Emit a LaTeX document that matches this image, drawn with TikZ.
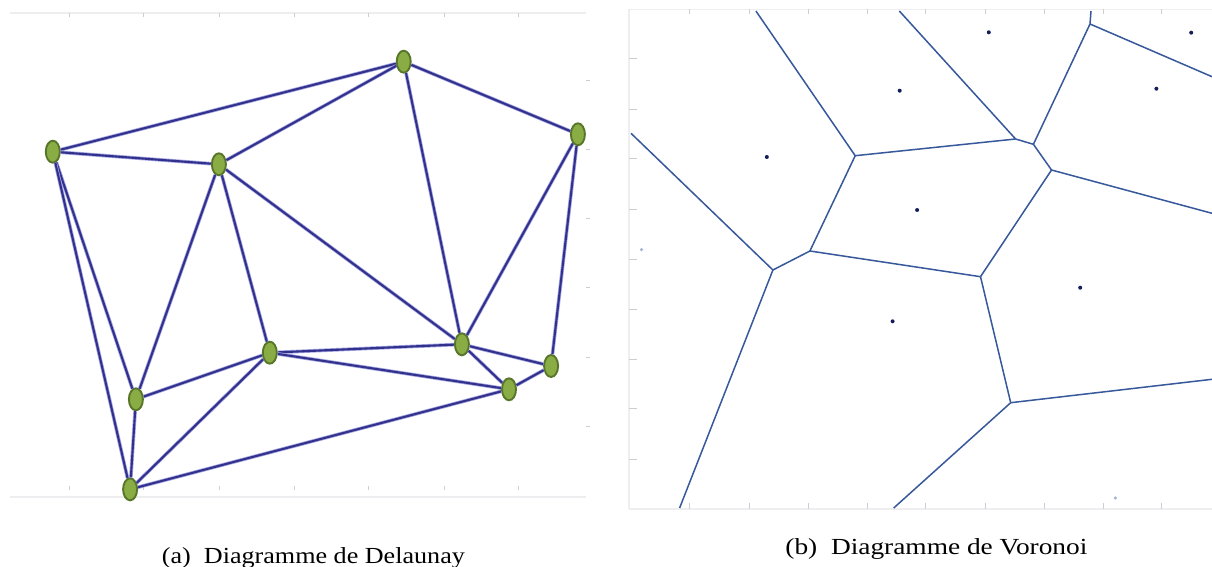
\documentclass[tikz,border=0pt]{standalone}
\usepackage{graphicx}
\usepackage{fontspec}
\setmainfont{Liberation Serif}
\usetikzlibrary{shapes.geometric}
\definecolor{edgeblue}{RGB}{50,50,140}
\definecolor{edgehalo}{RGB}{165,165,228}
\definecolor{nodefill}{RGB}{138,172,68}
\definecolor{nodeline}{RGB}{88,118,42}
\definecolor{voro}{RGB}{55,88,155}
\definecolor{seed}{RGB}{20,30,90}
\definecolor{framec}{RGB}{238,238,241}
\definecolor{tickc}{RGB}{205,205,210}
\begin{document}
\begin{tikzpicture}[x=1pt,y=-1pt,
  vert/.style={ellipse,draw=nodeline,fill=nodefill,line width=1.9pt,minimum width=14pt,minimum height=22pt,inner sep=0pt},
  dedge/.style={draw=edgeblue,line width=2.1pt,preaction={draw=edgehalo,line width=3.6pt}},
  vedge/.style={draw=voro,line width=1.5pt},
  seedpt/.style={circle,fill=seed,inner sep=0pt,minimum size=4pt},
  faintseed/.style={circle,fill=voro!45,inner sep=0pt,minimum size=3.5pt},
  framel/.style={draw=framec,line width=1.5pt},
  tickl/.style={draw=tickc,line width=0.8pt},
  captext/.style={anchor=base,inner sep=0pt,font=\fontsize{23}{28}\selectfont}
]
\useasboundingbox (0,0) rectangle (1212,567);
\fill[white] (0,0) rectangle (1212,567);

% ---------- left panel frame ----------
\draw[framel] (10,13) -- (586,13);
\draw[framel] (10,497) -- (586,497);
\foreach \x in {69,143.5,219,294,368.5,444,518.6}{
  \draw[tickl] (\x,13) -- (\x,17);
  \draw[tickl] (\x,486) -- (\x,490);
}
\foreach \y in {80,149,218,287,357,426}{
  \draw[tickl] (586,\y) -- (590,\y);
}

% ---------- Delaunay nodes ----------
\node[vert] (n1) at (52.8,151.7) {};
\node[vert] (n2) at (218.9,164.3) {};
\node[vert] (n3) at (403.7,61.7) {};
\node[vert] (n4) at (577.9,134.3) {};
\node[vert] (n5) at (269.8,352.7) {};
\node[vert] (n6) at (461.9,344.3) {};
\node[vert] (n7) at (551.1,366) {};
\node[vert] (n8) at (509,389.3) {};
\node[vert] (n9) at (135.9,399.3) {};
\node[vert] (n10) at (130.1,489.3) {};

% ---------- Delaunay edges ----------
\foreach \a/\b in {n1/n3,n1/n2,n1/n9,n1/n10,n2/n3,n2/n9,n2/n5,n2/n6,n3/n4,n3/n6,
  n4/n6,n4/n7,n5/n9,n5/n10,n5/n6,n5/n8,n6/n7,n6/n8,n7/n8,n8/n10,n9/n10}{
  \draw[dedge] (\a) -- (\b);
}

% ---------- right panel frame ----------
\draw[framel] (629,9.3) -- (1212,9.3);
\draw[framel] (629,509) -- (1212,509);
\draw[framel] (629,9.3) -- (629,509);
\foreach \x in {689.8,749.1,808,867.3,925.8,985,1044,1103.2,1161.7}{
  \draw[tickl] (\x,9.3) -- (\x,14);
  \draw[tickl] (\x,503) -- (\x,509);
}
\foreach \y in {58.3,109,158.3,209,259.3,309,359.3,408.3,459}{
  \draw[tickl] (629,\y) -- (637,\y);
}

% ---------- Voronoi vertices ----------
\coordinate (vA) at (855.2,155.7);
\coordinate (vB) at (1015.6,139);
\coordinate (vC) at (1033.4,144.3);
\coordinate (vD) at (1051.5,170);
\coordinate (vE) at (980.5,276.7);
\coordinate (vF) at (809.9,251);
\coordinate (vG) at (772.9,270);
\coordinate (vH) at (1010.7,402.7);
\coordinate (vI) at (1090,24);
% free ends
\coordinate (tA) at (755.9,11);
\coordinate (tB) at (899.3,11);
\coordinate (tI) at (1091,11);
\coordinate (rI) at (1212,76.7);
\coordinate (rD) at (1212,213.3);
\coordinate (rH) at (1212,379.3);
\coordinate (bH) at (893.7,508);
\coordinate (bG) at (679.6,508);
\coordinate (lG) at (631,133.3);

\foreach \a/\b in {vA/vB,vB/vC,vC/vD,vD/vE,vE/vF,vF/vA,vF/vG,vE/vH,vC/vI,
  vA/tA,vB/tB,vI/tI,vI/rI,vD/rD,vH/rH,vH/bH,vG/bG,vG/lG}{
  \draw[vedge] (\a) -- (\b);
}

% ---------- seeds ----------
\node[seedpt] (s1) at (988.8,32.3) {};
\node[seedpt] (s2) at (1191.2,32.7) {};
\node[seedpt] (s3) at (899.7,90.7) {};
\node[seedpt] (s4) at (1156.4,88.7) {};
\node[seedpt] (s5) at (766.8,157) {};
\node[seedpt] (s6) at (917.1,210) {};
\node[seedpt] (s7) at (1080.2,287.7) {};
\node[seedpt] (s8) at (892.6,321.3) {};
\node[faintseed] (s9) at (641.5,249.7) {};
\node[faintseed] (s10) at (1115.3,498) {};

% ---------- captions ----------
\node[captext] (capa) at (313.4,563) {\scalebox{1.135}[1]{(a)\ \ Diagramme de Delaunay}};
\node[captext] (capb) at (936.4,554.7) {\scalebox{1.19}[1]{(b)\ \ Diagramme de Voronoi}};
\end{tikzpicture}
\end{document}
